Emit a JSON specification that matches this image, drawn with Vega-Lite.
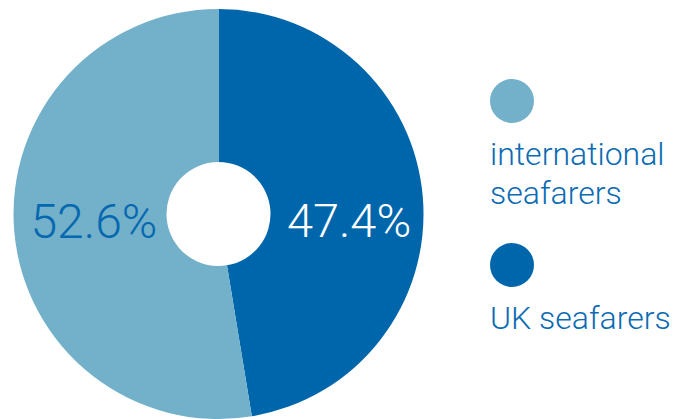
{
  "$schema": "https://vega.github.io/schema/vega-lite/v6.json",
  "width": 437,
  "height": 408,
  "autosize": {"type": "none"},
  "padding": {"left": 0, "top": 10, "right": 240, "bottom": 1},
  "background": "white",
  "view": {"stroke": null},
  "data": {
    "values": [
      {"group": "UK seafarers", "share": 47.4, "label": "47.4%"},
      {"group": "international seafarers", "share": 52.6, "label": "52.6%"}
    ]
  },
  "encoding": {
    "theta": {"field": "share", "type": "quantitative", "stack": true},
    "order": {"field": "group", "type": "nominal", "sort": "ascending"}
  },
  "layer": [
    {
      "mark": {"type": "arc", "outerRadius": 205, "innerRadius": 52, "strokeWidth": 0},
      "encoding": {
        "color": {
          "field": "group",
          "type": "nominal",
          "scale": {
            "domain": ["international seafarers", "UK seafarers"],
            "range": ["#73b0c9", "#0066ab"]
          },
          "legend": {
            "orient": "none",
            "legendX": 490,
            "legendY": 69,
            "title": null,
            "padding": 0,
            "symbolType": "circle",
            "symbolSize": 1936,
            "symbolStrokeWidth": 0,
            "symbolOpacity": 1,
            "labelFont": "Roboto",
            "labelFontSize": 32,
            "labelFontWeight": 300,
            "labelColor": "#0b6bb3",
            "labelOffset": 0,
            "labelLimit": 0,
            "rowPadding": 33,
            "labelBaseline": "alphabetic",
            "labelExpr": "datum.label == 'international seafarers' ? ['international', 'seafarers'] : datum.label",
            "encoding": {
              "labels": {
                "dx": {"value": -44},
                "dy": {"value": 64},
                "lineHeight": {"value": 39}
              }
            }
          }
        }
      }
    },
    {
      "mark": {"type": "text", "radius": 125, "font": "Roboto", "fontWeight": 300, "fontSize": 48, "fill": "#0568b0", "baseline": "middle", "align": "center"},
      "encoding": {
        "text": {"field": "label"},
        "opacity": {"condition": {"test": "datum.group == 'UK seafarers'", "value": 0}, "value": 1}
      }
    },
    {
      "mark": {"type": "text", "radius": 131, "dy": 20, "font": "Roboto", "fontWeight": 300, "fontSize": 47, "fill": "white", "baseline": "middle", "align": "center"},
      "encoding": {
        "text": {"field": "label"},
        "opacity": {"condition": {"test": "datum.group == 'UK seafarers'", "value": 1}, "value": 0}
      }
    }
  ]
}
